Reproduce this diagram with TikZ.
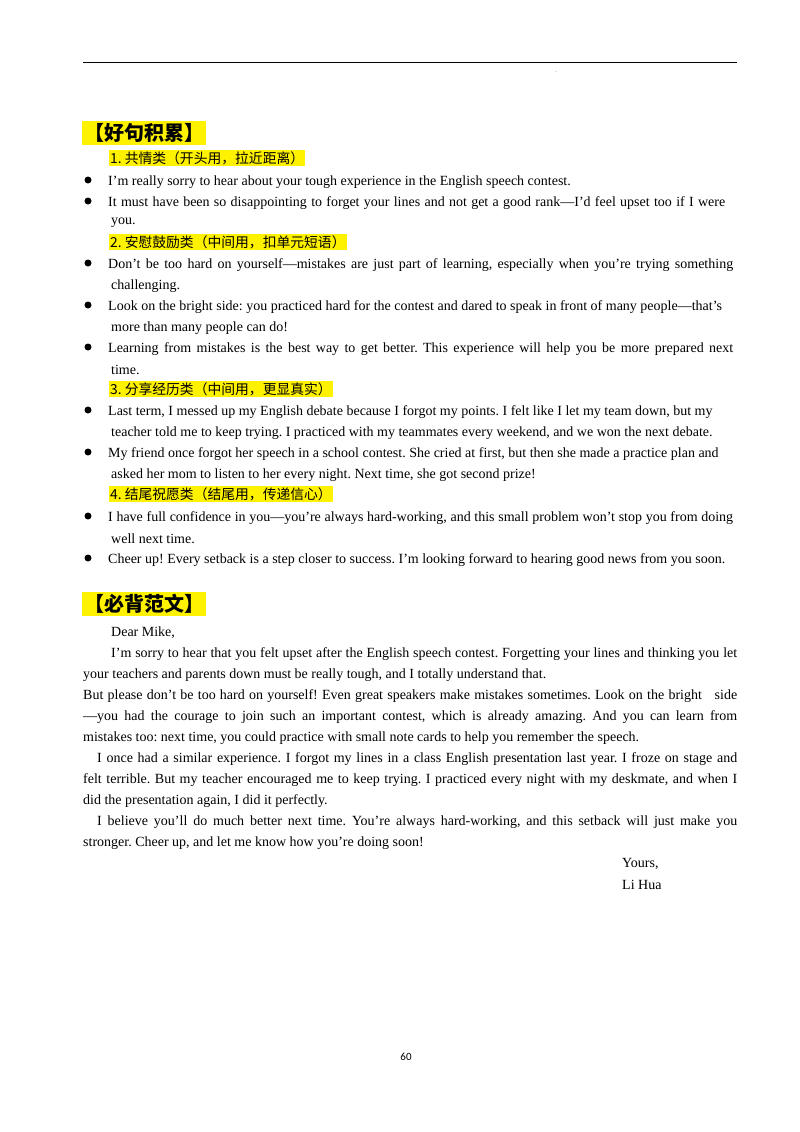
\documentclass[tikz,border=0pt]{standalone}
\usepackage{fontspec}
\setmainfont{Liberation Serif}
\newfontfamily\cjk{Noto Sans CJK SC}
\newfontfamily\pagenum{Carlito}
\frenchspacing
\begin{document}
\begin{tikzpicture}[x=1pt,y=-1pt,
  t/.style={anchor=west,inner sep=0pt,font=\fontsize{14}{16}\selectfont},
  lab/.style={anchor=west,inner sep=1pt,fill=yellow,font=\cjk\fontsize{13.8}{15}\selectfont},
  head/.style={anchor=west,inner sep=2pt,fill=yellow,font=\cjk\bfseries\fontsize{20}{22}\selectfont},
  bul/.style={circle,fill=black,inner sep=0pt,minimum size=7pt}]
\useasboundingbox (0,0) rectangle (800,1132);
\newcommand{\J}[2]{\makebox[#1pt][s]{#2}}
\draw[line width=0.6pt] (83,62) -- (737,62);
\node[inner sep=0pt,font=\tiny] (dot) at (556,72) {.};
% heading 1
\node[head] (h1) at (82,133) {【好句积累】};
\node[lab] (l1) at (109,158) {1. 共情类（开头用，拉近距离）};
\foreach \y [count=\i] in {180,201,263,305,347,410,452,516,558}{
  \node[bul] (b\i) at (88,\y) {};}
\begin{scope}[yshift=-2pt]
\node[t] (a1) at (108,180) {I’m really sorry to hear about your tough experience in the English speech contest.};
\node[t] (a2) at (108,201) {\J{617}{It must have been so disappointing to forget your lines and not get a good rank—I’d feel upset too if I were}};
\node[t] (a3) at (111,221) {you.};
\node[t] (a4) at (108,263) {\J{625}{Don’t be too hard on yourself—mistakes are just part of learning, especially when you’re trying something}};
\node[t] (a5) at (111,284) {challenging.};
\node[t] (a6) at (108,305) {Look on the bright side: you practiced hard for the contest and dared to speak in front of many people—that’s};
\node[t] (a7) at (111,326) {more than many people can do!};
\node[t] (a8) at (108,347) {\J{625}{Learning from mistakes is the best way to get better. This experience will help you be more prepared next}};
\node[t] (a9) at (111,368) {time.};
\node[t] (a10) at (108,410) {Last term, I messed up my English debate because I forgot my points. I felt like I let my team down, but my};
\node[t] (a11) at (111,431) {teacher told me to keep trying. I practiced with my teammates every weekend, and we won the next debate.};
\node[t] (a12) at (108,452) {My friend once forgot her speech in a school contest. She cried at first, but then she made a practice plan and};
\node[t] (a13) at (111,473) {asked her mom to listen to her every night. Next time, she got second prize!};
\node[t] (a14) at (108,516) {\J{625}{I have full confidence in you—you’re always hard-working, and this small problem won’t stop you from doing}};
\node[t] (a15) at (111,537) {well next time.};
\node[t] (a16) at (108,558) {Cheer up! Every setback is a step closer to success. I’m looking forward to hearing good news from you soon.};
\node[t] (p1) at (111,631) {Dear Mike,};
\node[t] (p2) at (111,652) {\J{626}{I’m sorry to hear that you felt upset after the English speech contest. Forgetting your lines and thinking you let}};
\node[t] (p3) at (83,673) {your teachers and parents down must be really tough, and I totally understand that.};
\node[t] (p4) at (83,694) {\J{654}{But please don’t be too hard on yourself! Even great speakers make mistakes sometimes. Look on the bright \ \ side}};
\node[t] (p5) at (83,715) {\J{654}{—you had the courage to join such an important contest, which is already amazing. And you can learn from}};
\node[t] (p6) at (83,736) {mistakes too: next time, you could practice with small note cards to help you remember the speech.};
\node[t] (p7) at (97,757) {\J{640}{I once had a similar experience. I forgot my lines in a class English presentation last year. I froze on stage and}};
\node[t] (p8) at (83,778) {\J{654}{felt terrible. But my teacher encouraged me to keep trying. I practiced every night with my deskmate, and when I}};
\node[t] (p9) at (83,799) {did the presentation again, I did it perfectly.};
\node[t] (p10) at (97,820) {\J{640}{I believe you’ll do much better next time. You’re always hard-working, and this setback will just make you}};
\node[t] (p11) at (83,841) {stronger. Cheer up, and let me know how you’re doing soon!};
\node[t] (p12) at (622,862) {Yours,};
\node[t] (p13) at (622,883) {Li Hua};
\end{scope}
\node[lab] (l2) at (109,242) {2. 安慰鼓励类（中间用，扣单元短语）};
\node[lab] (l3) at (109,389) {3. 分享经历类（中间用，更显真实）};
\node[lab] (l4) at (109,494) {4. 结尾祝愿类（结尾用，传递信心）};
% heading 2
\node[head] (h2) at (82,604) {【必背范文】};
\node[inner sep=0pt,font=\pagenum\fontsize{11}{13}\selectfont] (pg) at (406,1057) {60};
\end{tikzpicture}
\end{document}
